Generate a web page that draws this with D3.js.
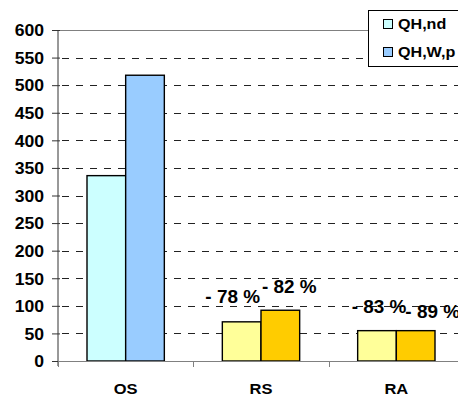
<!DOCTYPE html>
<html>
<head>
<meta charset="utf-8">
<script src="https://cdn.jsdelivr.net/npm/d3@7"></script>
<style>
  html, body { margin: 0; padding: 0; background: #fff; overflow: hidden; }
  svg { display: block; }
  text { font-family: "Liberation Sans", Arial, Helvetica, sans-serif; font-weight: bold; fill: #000; }
</style>
</head>
<body>
<svg id="chart" width="458" height="396"></svg>
<script>
// ---- data ----
const categories = ["OS", "RS", "RA"];
const seriesNames = ["QH,nd", "QH,W,p"];
const seriesQHnd = [336, 71, 55];
const seriesQHWp = [518, 92, 55];
const yTicks = [0, 50, 100, 150, 200, 250, 300, 350, 400, 450, 500, 550, 600];
const pctLabels = [null, ["- 78 %", "- 82 %"], ["- 83 %", "- 89 %"]];

// ---- styling / layout ----
const colorsOS = ["#CCFFFF", "#99CCFF"];
const colorsOther = ["#FFFF99", "#FFCC00"];
const legendColors = ["#CCFFFF", "#99CCFF"];
const labelOffsets = [null, [[-9, -19], [9, -17]], [[2, -18], [17, -12.5]]];

(function () {
const svg = d3.select("#chart");
const mL = 58, mR = 464, mT = 30, mB = 361;

const x = d3.scaleBand().domain(categories).range([mL, mR]).padding(0);
const xs = d3.scaleBand().domain([0, 1]).range([0, x.bandwidth()]).paddingInner(0).paddingOuter(0.75);
const y = d3.scaleLinear().domain([0, 600]).range([mB, mT]);

function stretch(sel, f) {
  sel.each(function () {
    const n = this.getComputedTextLength();
    d3.select(this).attr("textLength", n * f).attr("lengthAdjust", "spacingAndGlyphs");
  });
}

// gridlines
const grid = svg.append("g");
grid.selectAll("line.g")
  .data(yTicks.filter(d => d > 0 && d < 600))
  .join("line")
  .attr("x1", mL + 4).attr("x2", 458)
  .attr("y1", d => Math.round(y(d)) + 0.5).attr("y2", d => Math.round(y(d)) + 0.5)
  .attr("stroke", "#222").attr("stroke-width", 1)
  .attr("stroke-dasharray", "7,7");
// top border
grid.append("line")
  .attr("x1", mL).attr("x2", 458)
  .attr("y1", Math.round(y(600)) + 0.5).attr("y2", Math.round(y(600)) + 0.5)
  .attr("stroke", "#808080").attr("stroke-width", 1);

// bars
const vals = [seriesQHnd, seriesQHWp];
const barData = [];
categories.forEach((c, i) => {
  [0, 1].forEach(s => {
    barData.push({ c, i, s, v: vals[s][i], col: i === 0 ? colorsOS[s] : colorsOther[s] });
  });
});
svg.append("g").selectAll("rect")
  .data(barData)
  .join("rect")
  .attr("x", d => x(d.c) + xs(d.s))
  .attr("width", xs.bandwidth())
  .attr("y", d => y(d.v))
  .attr("height", d => y(0) - y(d.v))
  .attr("fill", d => d.col)
  .attr("stroke", "#000")
  .attr("stroke-width", 1.4);

// y axis
const yAxis = d3.axisLeft(y).tickValues(yTicks).tickSize(6).tickPadding(8);
const ya = svg.append("g").attr("transform", `translate(${mL},0)`).call(yAxis);
ya.attr("font-family", null).attr("font-size", null);
ya.select(".domain").attr("stroke", "#333").attr("d", `M0,${mT}V${mB + 5}`);
ya.selectAll(".tick line").attr("stroke", "#333").attr("x2", -6).attr("x1", 2);
ya.selectAll(".tick text").attr("font-size", 16).attr("dy", "0.36em").call(stretch, 1.1);

// x axis
const xa = svg.append("g").attr("transform", `translate(0,${mB})`);
xa.append("line").attr("x1", mL).attr("x2", 458).attr("y1", 0.5).attr("y2", 0.5).attr("stroke", "#808080");
const boundaries = categories.map(c => x(c)).concat([x(categories[categories.length - 1]) + x.bandwidth()]);
xa.selectAll("line.t").data(boundaries).join("line")
  .attr("x1", d => Math.round(d) + 0.5).attr("x2", d => Math.round(d) + 0.5)
  .attr("y1", 0).attr("y2", 6).attr("stroke", "#808080");
xa.selectAll("text").data(categories).join("text")
  .attr("x", d => x(d) + x.bandwidth() / 2)
  .attr("y", 33)
  .attr("text-anchor", "middle")
  .attr("font-size", 15)
  .text(d => d)
  .call(stretch, 1.1);

// percentage labels
const lab = [];
categories.forEach((c, i) => {
  if (!pctLabels[i]) return;
  [0, 1].forEach(s => lab.push({ c, i, s, t: pctLabels[i][s], off: labelOffsets[i][s] }));
});
svg.append("g").selectAll("text").data(lab).join("text")
  .attr("x", d => x(d.c) + xs(d.s) + xs.bandwidth() / 2 + d.off[0])
  .attr("y", d => y(vals[d.s][d.i]) + d.off[1])
  .attr("text-anchor", "middle")
  .attr("font-size", 18)
  .text(d => d.t)
  .call(stretch, 1.05);

// legend
const lg = svg.append("g");
lg.append("rect").attr("x", 368.5).attr("y", 10.5).attr("width", 120).attr("height", 56)
  .attr("fill", "#fff").attr("stroke", "#000").attr("stroke-width", 1);
seriesNames.forEach((n, k) => {
  const cy = 24 + k * 27.5;
  lg.append("rect").attr("x", 383.5).attr("y", Math.round(cy - 5) + 0.5).attr("width", 9).attr("height", 9)
    .attr("fill", legendColors[k]).attr("stroke", "#000").attr("stroke-width", 1);
  lg.append("text").attr("x", 398).attr("y", cy + 5).attr("font-size", 14).text(n).call(stretch, 1.15);
});
})();
</script>
</body>
</html>
